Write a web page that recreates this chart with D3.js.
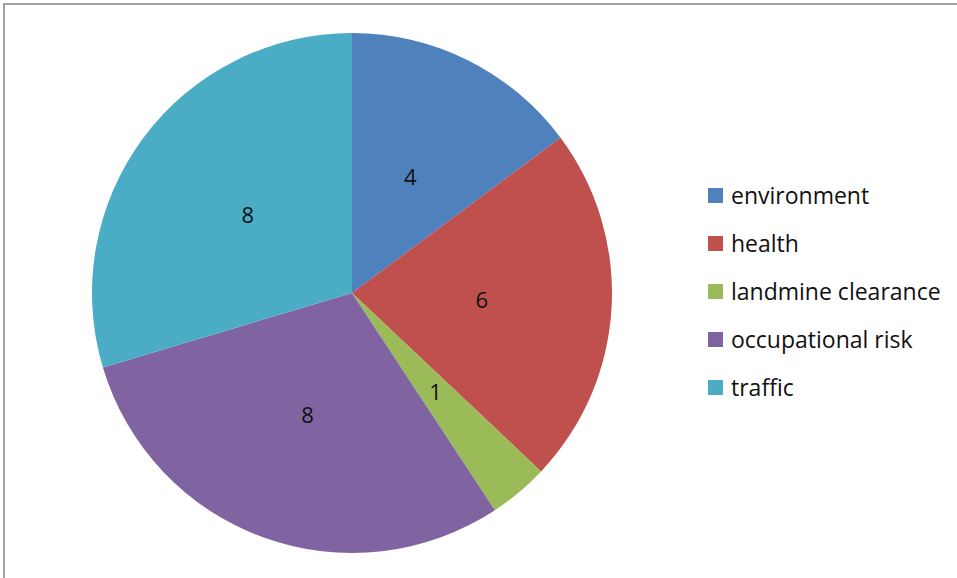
<!DOCTYPE html>
<html>
<head>
<meta charset="utf-8">
<script src="https://cdn.jsdelivr.net/npm/d3@7"></script>
<style>
  html, body { margin: 0; padding: 0; background: #fff; }
  svg { display: block; }
</style>
</head>
<body>
<div id="chart"></div>
<script>
const categories = ["environment", "health", "landmine clearance", "occupational risk", "traffic"];
const counts = [4, 6, 1, 8, 8];
const colors = ["#4F81BD", "#C0504D", "#9BBB59", "#8064A2", "#4BACC6"];

const width = 957;
const height = 578;
const cx = 352;
const cy = 293;
const radius = 260;

const data = categories.map((name, i) => ({name, value: counts[i]}));

const svg = d3.select("#chart").append("svg")
    .attr("width", width)
    .attr("height", height)
    .attr("viewBox", [0, 0, width, height])
    .style("font-family", "'Open Sans', 'DejaVu Sans', sans-serif");

// chart area border (top and left edges visible)
svg.append("path")
    .attr("d", `M4,${height} V4 H${width}`)
    .attr("fill", "none")
    .attr("stroke", "#a3a3a3")
    .attr("stroke-width", 2);

const pie = d3.pie().sort(null).value(d => d.value);
const arc = d3.arc().innerRadius(0).outerRadius(radius);
const labelArc = d3.arc().innerRadius(radius / 2).outerRadius(radius / 2);
const color = d3.scaleOrdinal().domain(categories).range(colors);

const g = svg.append("g").attr("transform", `translate(${cx},${cy})`);
const arcs = pie(data);

g.selectAll("path")
    .data(arcs)
    .join("path")
    .attr("d", arc)
    .attr("fill", d => color(d.data.name))
    .attr("stroke", "none");

g.selectAll("text")
    .data(arcs)
    .join("text")
    .attr("transform", d => `translate(${labelArc.centroid(d)})`)
    .attr("text-anchor", "middle")
    .attr("dy", "0.35em")
    .attr("font-size", 22)
    .attr("fill", "#111")
    .text(d => d.data.value);

// legend
const legendY = d3.scalePoint().domain(categories).range([196, 388]);
const legend = svg.append("g")
    .selectAll("g")
    .data(categories)
    .join("g")
    .attr("transform", d => `translate(708,${legendY(d)})`);

legend.append("rect")
    .attr("x", 0)
    .attr("y", -8)
    .attr("width", 15)
    .attr("height", 15)
    .attr("fill", d => color(d));

legend.append("text")
    .attr("x", 23)
    .attr("dy", "0.35em")
    .attr("font-size", 23)
    .attr("fill", "#111")
    .text(d => d);
</script>
</body>
</html>
